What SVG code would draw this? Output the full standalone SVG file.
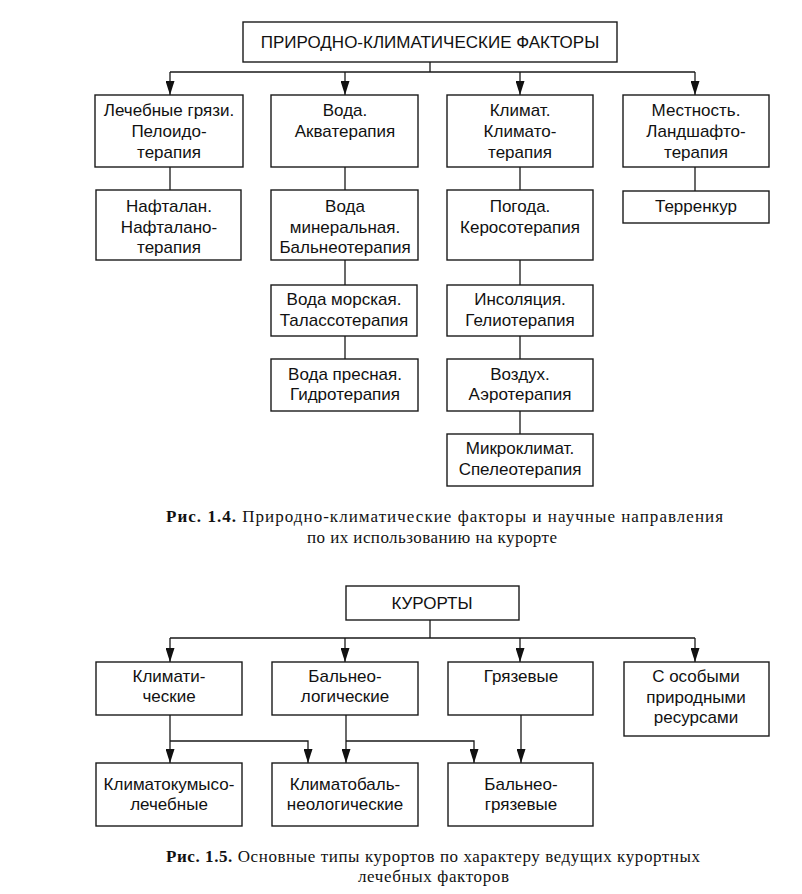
<svg xmlns="http://www.w3.org/2000/svg" width="802" height="894" viewBox="0 0 802 894">
<style>
.b{fill:#fff;stroke:#1a1a1a;stroke-width:1.4}
.t{font-family:"Liberation Sans",Arial,sans-serif;font-size:17px;fill:#111;text-anchor:middle}
.c{fill:none;stroke:#1a1a1a;stroke-width:1.3}
.a{fill:none;stroke:#1a1a1a;stroke-width:1.3;marker-end:url(#ar)}
.cap{font-family:"Liberation Serif","Times New Roman",serif;font-size:17px;fill:#111}
.bold{font-weight:bold}
</style>
<defs>
<marker id="ar" markerUnits="userSpaceOnUse" markerWidth="14" markerHeight="9" refX="14" refY="4.5" orient="auto" viewBox="0 0 14 9">
<path d="M0,0 L14,4.5 L0,9 z" fill="#111"/>
</marker>
</defs>
<rect width="802" height="894" fill="#fff"/>

<g id="connectors1">
<path class="c" d="M430,62 V72 M170,72 H695"/>
<path class="a" d="M170,72 V95"/>
<path class="a" d="M345,72 V95"/>
<path class="a" d="M520,72 V95"/>
<path class="a" d="M695,72 V95"/>
<path class="c" d="M170,167 V190 M345,167 V190 M520,167 V190 M695,167 V191 M345,260 V285 M345,336 V359 M520,260 V285 M520,336 V359 M520,411 V434"/>
</g>

<g id="n-top"><rect class="b" x="243" y="22" width="374" height="40"/><text class="t" x="430" y="48">ПРИРОДНО-КЛИМАТИЧЕСКИЕ ФАКТОРЫ</text></g>

<g id="n-gryazi"><rect class="b" x="95" y="95" width="148" height="72"/><text class="t" x="169" y="116">Лечебные грязи.</text><text class="t" x="169" y="137">Пелоидо-</text><text class="t" x="169" y="158">терапия</text></g>
<g id="n-voda"><rect class="b" x="271" y="95" width="147" height="72"/><text class="t" x="345" y="116">Вода.</text><text class="t" x="345" y="137">Акватерапия</text></g>
<g id="n-klimat"><rect class="b" x="447" y="95" width="146" height="72"/><text class="t" x="520" y="116">Климат.</text><text class="t" x="520" y="137">Климато-</text><text class="t" x="520" y="158">терапия</text></g>
<g id="n-mestnost"><rect class="b" x="623" y="95" width="146" height="72"/><text class="t" x="696" y="116">Местность.</text><text class="t" x="696" y="137">Ландшафто-</text><text class="t" x="696" y="158">терапия</text></g>

<g id="n-naftalan"><rect class="b" x="96" y="190" width="145" height="70"/><text class="t" x="169" y="212">Нафталан.</text><text class="t" x="169" y="233">Нафталано-</text><text class="t" x="169" y="253">терапия</text></g>
<g id="n-mineral"><rect class="b" x="271" y="190" width="147" height="70"/><text class="t" x="345" y="212">Вода</text><text class="t" x="345" y="233">минеральная.</text><text class="t" x="345" y="253">Бальнеотерапия</text></g>
<g id="n-pogoda"><rect class="b" x="447" y="190" width="146" height="70"/><text class="t" x="520" y="212">Погода.</text><text class="t" x="520" y="233">Керосотерапия</text></g>
<g id="n-terrenkur"><rect class="b" x="623" y="191" width="146" height="32"/><text class="t" x="696" y="212">Терренкур</text></g>

<g id="n-morskaya"><rect class="b" x="271" y="285" width="146" height="51"/><text class="t" x="344" y="305">Вода морская.</text><text class="t" x="344" y="326">Талассотерапия</text></g>
<g id="n-presnaya"><rect class="b" x="271" y="359" width="147" height="52"/><text class="t" x="345" y="380">Вода пресная.</text><text class="t" x="345" y="400">Гидротерапия</text></g>
<g id="n-insol"><rect class="b" x="447" y="285" width="146" height="51"/><text class="t" x="520" y="305">Инсоляция.</text><text class="t" x="520" y="326">Гелиотерапия</text></g>
<g id="n-vozduh"><rect class="b" x="447" y="359" width="146" height="52"/><text class="t" x="520" y="380">Воздух.</text><text class="t" x="520" y="400">Аэротерапия</text></g>
<g id="n-mikro"><rect class="b" x="447" y="434" width="146" height="52"/><text class="t" x="520" y="454">Микроклимат.</text><text class="t" x="520" y="475">Спелеотерапия</text></g>

<g id="caption1">
<text class="cap" x="166" y="522" textLength="557" lengthAdjust="spacing"><tspan class="bold">Рис. 1.4.</tspan> Природно-климатические факторы и научные направления</text>
<text class="cap" x="307" y="543" textLength="250" lengthAdjust="spacing">по их использованию на курорте</text>
</g>

<g id="connectors2">
<path class="c" d="M430,620 V638 M170,638 H695"/>
<path class="a" d="M170,638 V662"/>
<path class="a" d="M345,638 V662"/>
<path class="a" d="M520,638 V662"/>
<path class="a" d="M695,638 V662"/>
<path class="a" d="M170,715 V763"/>
<path class="a" d="M170,741 H308 V763"/>
<path class="a" d="M346,715 V763"/>
<path class="a" d="M346,741 H474 V763"/>
<path class="a" d="M521,715 V763"/>
</g>

<g id="n-kurorty"><rect class="b" x="346" y="586" width="173" height="34"/><text class="t" x="432" y="609">КУРОРТЫ</text></g>

<g id="n-klimaticheskie"><rect class="b" x="96" y="662" width="146" height="53"/><text class="t" x="169" y="682">Климати-</text><text class="t" x="169" y="702">ческие</text></g>
<g id="n-balneo"><rect class="b" x="272" y="662" width="146" height="53"/><text class="t" x="345" y="682">Бальнео-</text><text class="t" x="345" y="702">логические</text></g>
<g id="n-gryazevye"><rect class="b" x="448" y="662" width="145" height="53"/><text class="t" x="521" y="682">Грязевые</text></g>
<g id="n-osobye"><rect class="b" x="624" y="662" width="145" height="74"/><text class="t" x="696" y="682">С особыми</text><text class="t" x="696" y="703">природными</text><text class="t" x="696" y="723">ресурсами</text></g>

<g id="n-kumys"><rect class="b" x="96" y="763" width="146" height="63"/><text class="t" x="169" y="790">Климатокумысо-</text><text class="t" x="169" y="810">лечебные</text></g>
<g id="n-klimatobalneo"><rect class="b" x="272" y="763" width="146" height="63"/><text class="t" x="345" y="790">Климатобаль-</text><text class="t" x="345" y="810">неологические</text></g>
<g id="n-balneogryaz"><rect class="b" x="448" y="763" width="145" height="63"/><text class="t" x="521" y="790">Бальнео-</text><text class="t" x="521" y="810">грязевые</text></g>

<g id="caption2">
<text class="cap" x="166" y="862" textLength="534" lengthAdjust="spacing"><tspan class="bold">Рис. 1.5.</tspan> Основные типы курортов по характеру ведущих курортных</text>
<text class="cap" x="358" y="882" textLength="151" lengthAdjust="spacing">лечебных факторов</text>
</g>
</svg>
